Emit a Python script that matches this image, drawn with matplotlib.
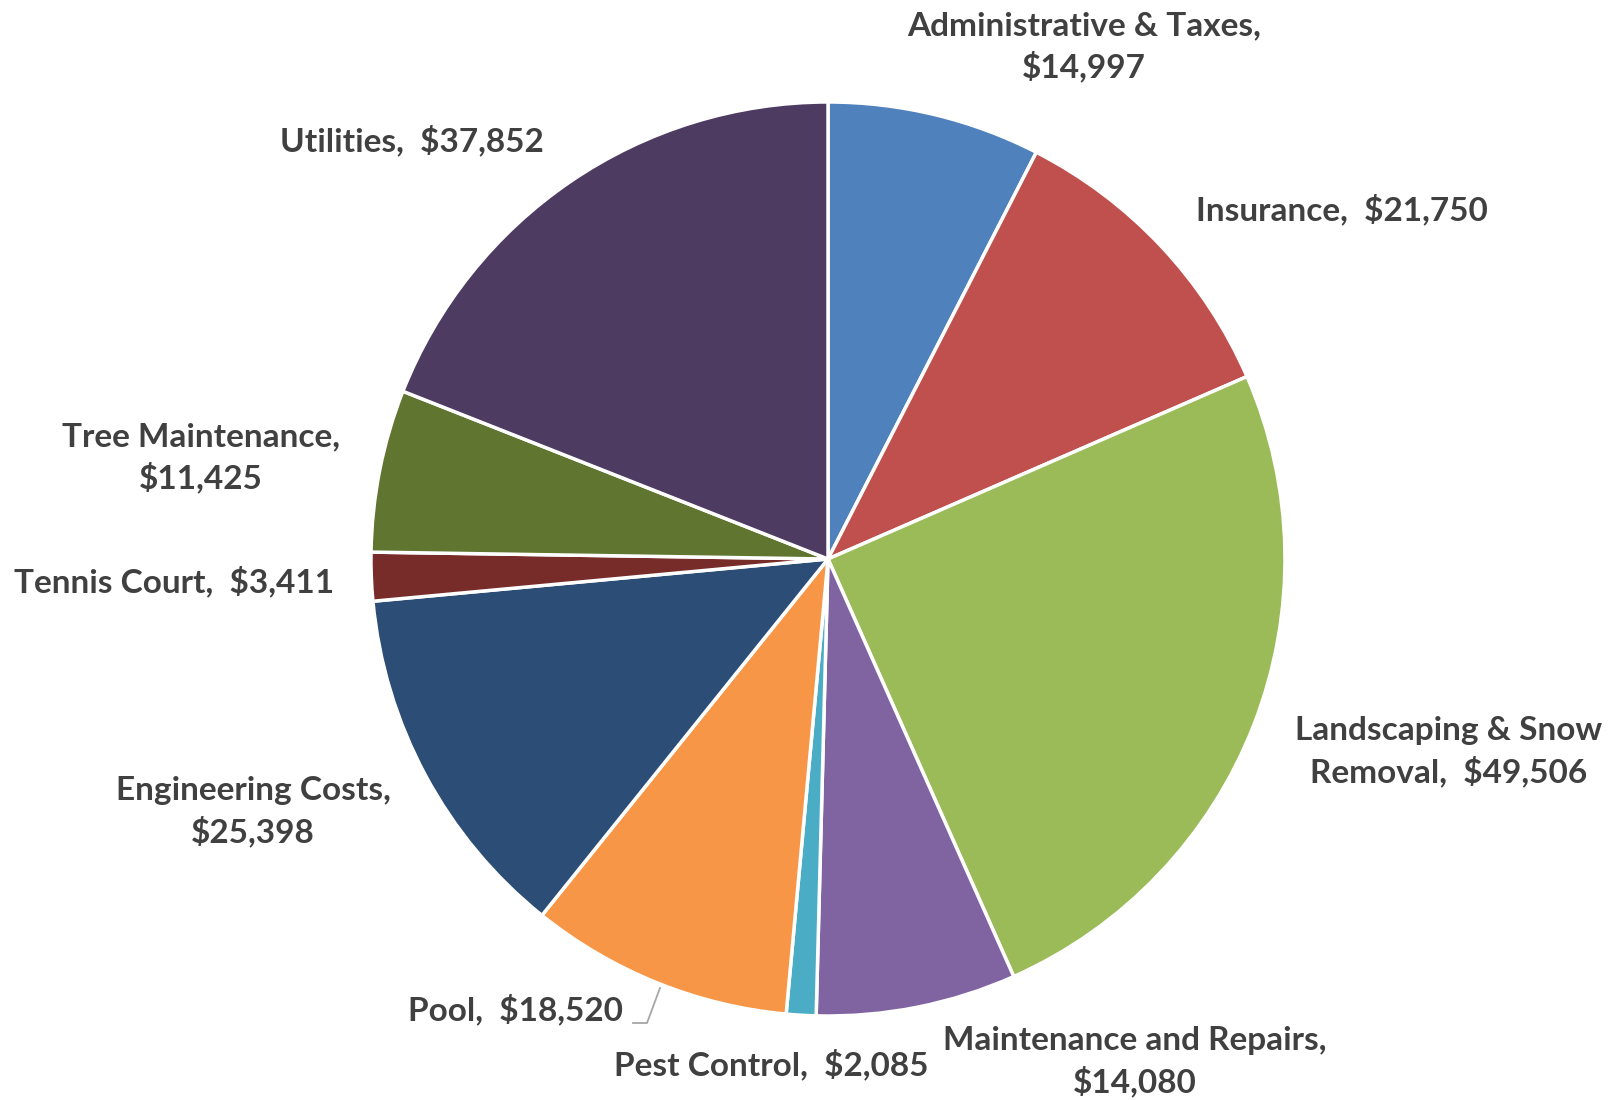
import matplotlib.pyplot as plt

categories = ['Administrative & Taxes', 'Insurance', 'Landscaping & Snow Removal',
              'Maintenance and Repairs', 'Pest Control', 'Pool', 'Engineering Costs',
              'Tennis Court', 'Tree Maintenance', 'Utilities']
values = [14997, 21750, 49506, 14080, 2085, 18520, 25398, 3411, 11425, 37852]
colors = ['#4F81BD', '#C0504D', '#9BBB59', '#8064A2', '#4BACC6',
          '#F79646', '#2C4D75', '#772C2A', '#5F7530', '#4D3B62']
label_texts = ['Administrative & Taxes,\n${:,}', 'Insurance,  ${:,}',
               'Landscaping & Snow\nRemoval,  ${:,}', 'Maintenance and Repairs,\n${:,}',
               'Pest Control,  ${:,}', 'Pool,  ${:,}', 'Engineering Costs,\n${:,}',
               'Tennis Court,  ${:,}', 'Tree Maintenance,\n${:,}', 'Utilities,  ${:,}']
# label centres in pixel coords (x, y from top)
label_pos = [(1084, 47), (1342, 209), (1449, 752), (1135, 1062), (771, 1064),
             (516, 1009), (253, 812), (174, 581), (201, 458), (412, 140)]

W, H = 1623, 1100
fig = plt.figure(figsize=(W / 100, H / 100), dpi=100)
ax = fig.add_axes([0, 0, 1, 1])

ax.pie(values, colors=colors, startangle=90, counterclock=False,
       center=(828, H - 559), radius=457,
       wedgeprops=dict(edgecolor='white', linewidth=2.5), frame=True)
ax.set_xlim(0, W)
ax.set_ylim(0, H)
ax.set_aspect('equal')
ax.axis('off')

for txt, v, (x, y) in zip(label_texts, values, label_pos):
    ax.text(x, H - y, txt.format(v), ha='center', va='center', fontsize=24,
            fontweight='bold', family='Lato', color='#404040', linespacing=1.4)

# leader line for Pool
ax.plot([633, 647, 660], [H - 1023, H - 1023, H - 988], color='#A6A6A6', lw=1.3)

fig.savefig('out.png', dpi=100)
